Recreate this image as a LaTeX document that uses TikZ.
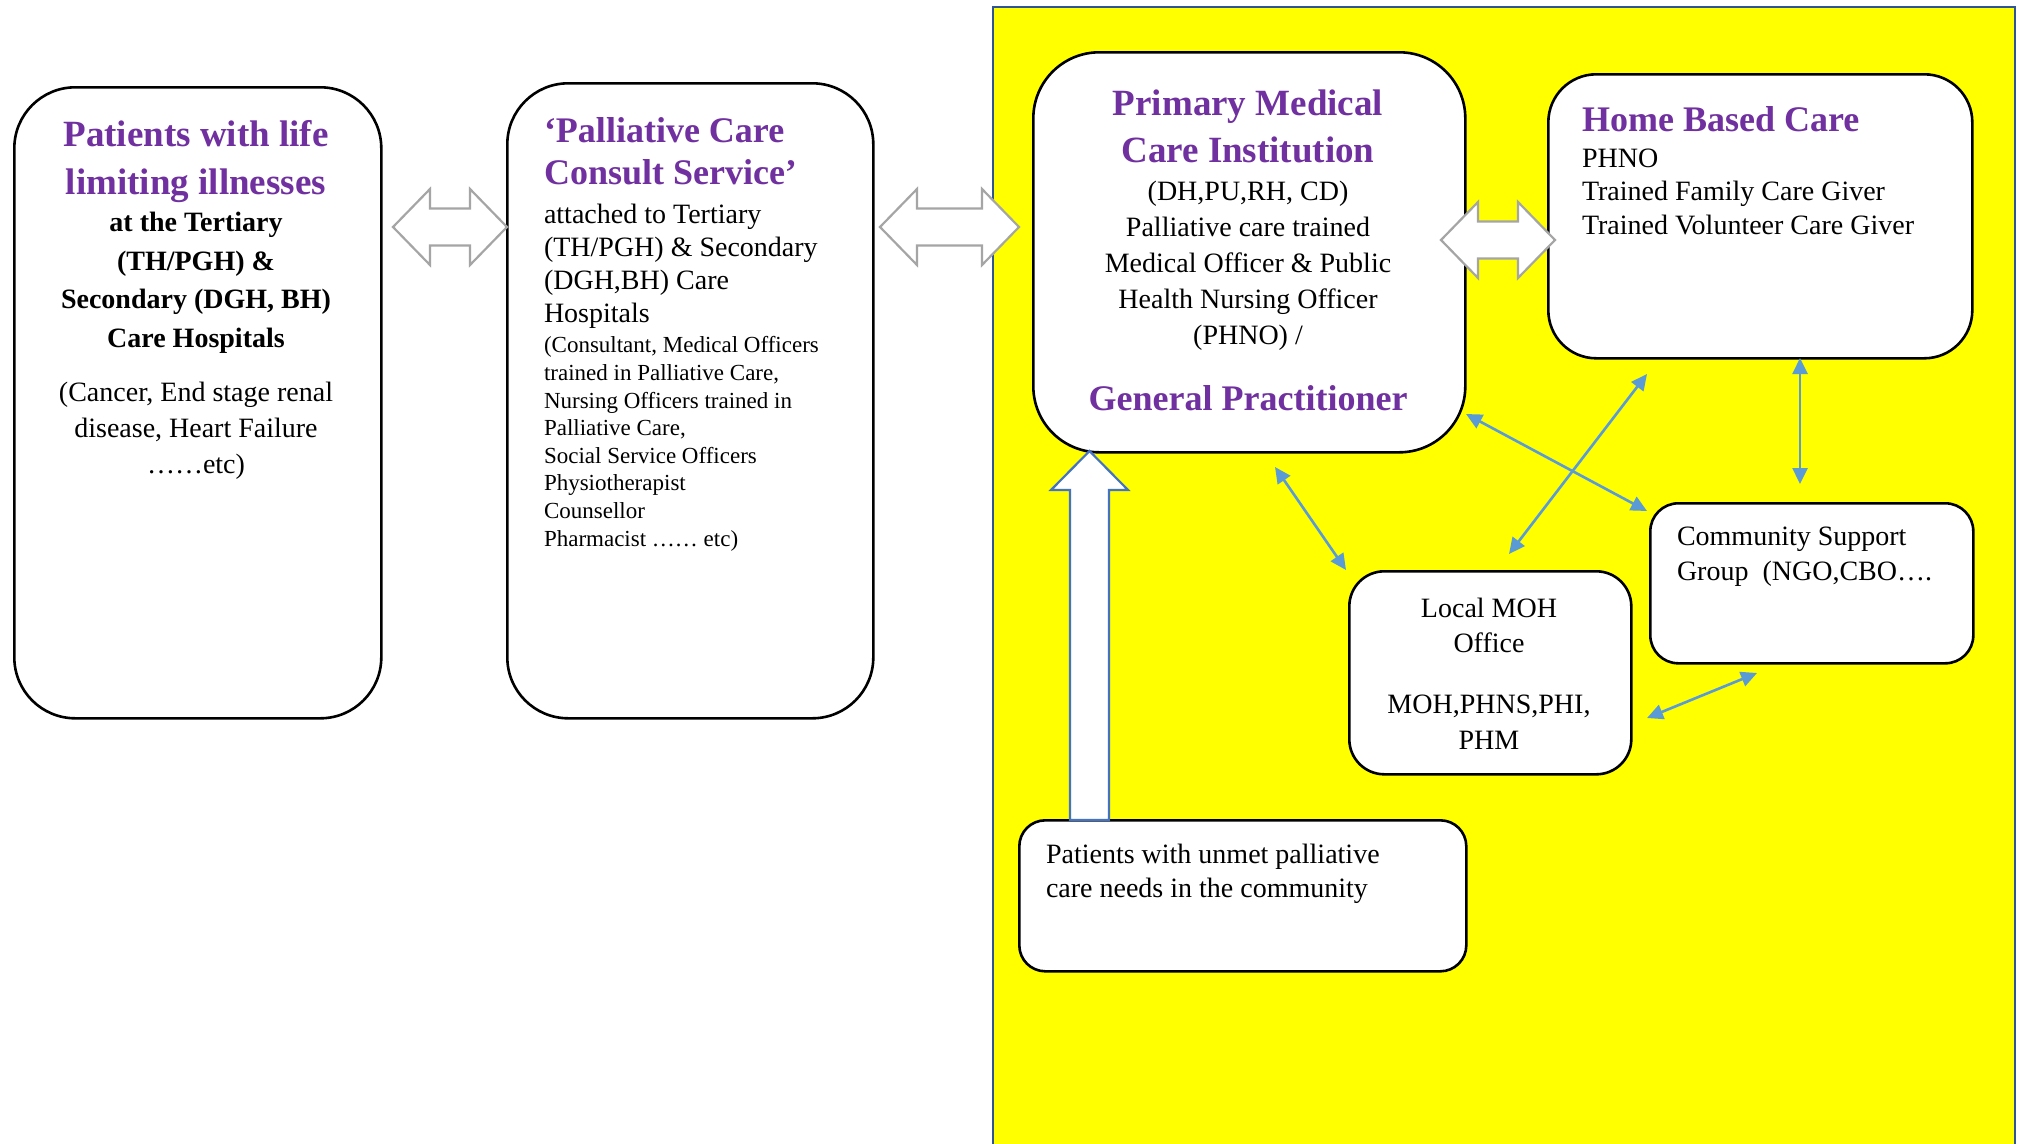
\documentclass[tikz,border=0pt]{standalone}
\usepackage{fontspec}
\setmainfont{Liberation Serif}
\usetikzlibrary{arrows.meta}
\definecolor{purp}{HTML}{7030A0}
\definecolor{ylw}{HTML}{FFFF00}
\definecolor{frameblue}{HTML}{2F5597}
\definecolor{arrblue}{HTML}{5B9BD5}
\definecolor{upblue}{HTML}{4472C4}
\definecolor{arrgray}{HTML}{A5A5A5}
\newcommand\fsz[2]{\fontsize{#1}{#2}\selectfont}
\begin{document}
\begin{tikzpicture}[x=1pt,y=-1pt,
  rbox/.style={draw=black, line width=2.6pt, fill=white, inner sep=0pt, anchor=north west},
  txt/.style={inner sep=0pt, outer sep=0pt},
  grayblk/.style={draw=arrgray, line width=2.2pt, fill=white, line join=miter},
  upblk/.style={draw=upblue, line width=2.2pt, fill=white, line join=miter},
  bluearr/.style={draw=arrblue, line width=2.6pt, {Triangle[length=16pt,width=15pt]}-{Triangle[length=16pt,width=15pt]}}
]
\useasboundingbox (0,0) rectangle (2020,1143);
\clip (0,0) rectangle (2020,1143);
\fill[white] (0,0) rectangle (2020,1143);

% yellow community frame
\draw[draw=frameblue, line width=2pt, fill=ylw] (993,7) rectangle (2015,1170);

% boxes
\node[rbox, rounded corners=61pt, minimum width=367pt, minimum height=631pt] (b1) at (13,86) {};
\node[rbox, rounded corners=61pt, minimum width=366pt, minimum height=635pt] (b2) at (506,82) {};
\node[rbox, rounded corners=66pt, minimum width=432pt, minimum height=400pt] (pmci) at (1032,51) {};
\node[rbox, rounded corners=48pt, minimum width=424pt, minimum height=284pt] (home) at (1547,73) {};
\node[rbox, rounded corners=35pt, minimum width=282pt, minimum height=203pt] (moh) at (1348,570) {};
\node[rbox, rounded corners=28pt, minimum width=323pt, minimum height=160pt] (comm) at (1649,502) {};
\node[rbox, rounded corners=26pt, minimum width=447pt, minimum height=151pt] (unmet) at (1018,819) {};

% gray double block arrows
\newcommand\dblarr[3]{%
  \draw[grayblk] (#1,#3) -- (#1+37,#3-38) -- (#1+37,#3-18.5) -- (#2-37,#3-18.5) -- (#2-37,#3-38)
    -- (#2,#3) -- (#2-37,#3+38) -- (#2-37,#3+18.5) -- (#1+37,#3+18.5) -- (#1+37,#3+38) -- cycle;}
\dblarr{393}{507}{227}
\dblarr{880}{1019}{227}
\dblarr{1441}{1555}{240}

% up block arrow
\draw[upblk] (1070,820) -- (1070,490) -- (1051,490) -- (1089.5,451) -- (1128,490) -- (1109,490) -- (1109,820) -- cycle;

% blue double arrows
\coordinate (a1s) at (1275,467); \coordinate (a1e) at (1346,570);
\coordinate (a2s) at (1466,414); \coordinate (a2e) at (1647,511);
\coordinate (a3s) at (1647,374); \coordinate (a3e) at (1509,554);
\coordinate (a4s) at (1800,358); \coordinate (a4e) at (1800,484);
\coordinate (a5s) at (1757,673); \coordinate (a5e) at (1647,718);
\draw[bluearr] (a1s) -- (a1e);
\draw[bluearr] (a2s) -- (a2e);
\draw[bluearr] (a3s) -- (a3e);
\draw[bluearr] (a4s) -- (a4e);
\draw[bluearr] (a5s) -- (a5e);

% texts box 1 (multi-line nodes: anchor at the last line's baseline)
\node[txt, font=\bfseries\fsz{37}{48}, text=purp, align=center, anchor=base] (t1a) at (196,194) {Patients with life\\limiting illnesses};
\node[txt, font=\bfseries\fsz{28}{38.5}, align=center, anchor=base] (t1b) at (196,347) {at the Tertiary\\(TH/PGH) \&\\Secondary (DGH, BH)\\Care Hospitals};
\node[txt, font=\fsz{28}{36}, align=center, anchor=base] (t1c) at (196,473) {(Cancer, End stage renal\\disease, Heart Failure\\……etc)};

% texts box 2
\node[txt, font=\bfseries\fsz{36}{42}, text=purp, align=left, anchor=base west] (t2a) at (544,184) {‘Palliative Care\\Consult Service’};
\node[txt, font=\fsz{28}{33}, align=left, anchor=base west] (t2b) at (544,322) {attached to Tertiary\\(TH/PGH) \& Secondary\\(DGH,BH) Care\\Hospitals};
\node[txt, font=\fsz{23}{27.6}, align=left, anchor=base west] (t2c) at (544,546) {(Consultant, Medical Officers\\trained in Palliative Care,\\Nursing Officers trained in\\Palliative Care,\\Social Service Officers\\Physiotherapist\\Counsellor\\Pharmacist …… etc)};

% texts PMCI
\node[txt, font=\bfseries\fsz{37}{47}, text=purp, align=center, anchor=base] (t3a) at (1248,162) {Primary Medical\\Care Institution};
\node[txt, font=\fsz{28}{36}, align=center, anchor=base] (t3b) at (1248,344) {(DH,PU,RH, CD)\\Palliative care trained\\Medical Officer \& Public\\Health Nursing Officer\\(PHNO) /};
\node[txt, font=\bfseries\fsz{36}{44}, text=purp, anchor=base] (t3c) at (1248,410) {General Practitioner};

% texts home
\node[txt, font=\bfseries\fsz{36}{44}, text=purp, anchor=base west] (t4a) at (1582,131) {Home Based Care};
\node[txt, font=\fsz{28}{33.5}, align=left, anchor=base west] (t4b) at (1582,234) {PHNO\\Trained Family Care Giver\\Trained Volunteer Care Giver};

% texts MOH
\node[txt, font=\fsz{28}{35}, align=center, anchor=base] (t5a) at (1489,652) {Local MOH\\Office};
\node[txt, font=\fsz{28}{36}, align=center, anchor=base] (t5b) at (1489,749) {MOH,PHNS,PHI,\\PHM};

% texts community
\node[txt, font=\fsz{28}{35}, align=left, anchor=base west] (t6) at (1677,580) {Community Support\\Group\ \ (NGO,CBO….};

% texts unmet
\node[txt, font=\fsz{28}{34}, align=left, anchor=base west] (t7) at (1046,897) {Patients with unmet palliative\\care needs in the community};
\end{tikzpicture}
\end{document}
